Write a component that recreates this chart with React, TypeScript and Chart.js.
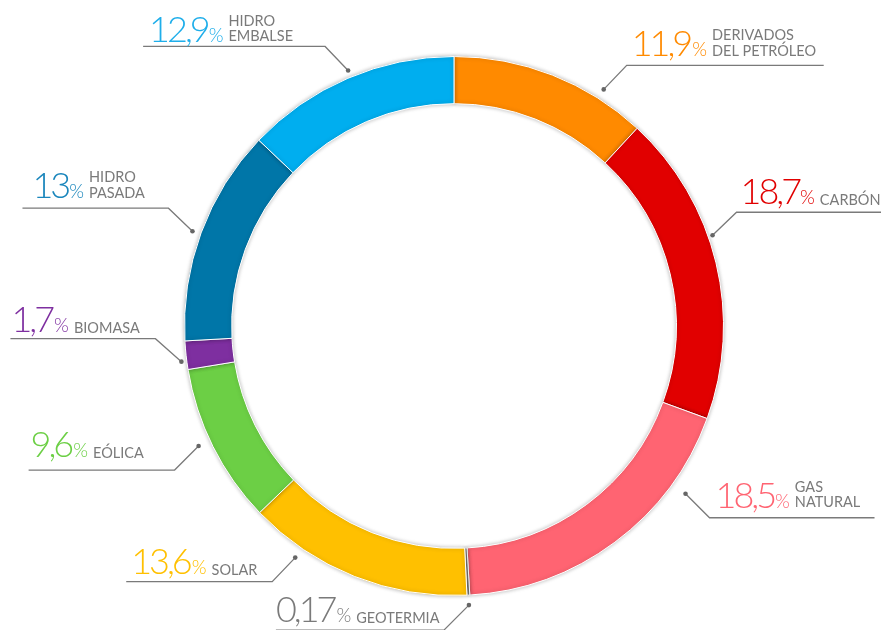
import React, { useEffect, useRef } from "react";
import { Chart, registerables } from "chart.js";

Chart.register(...registerables);

// ---- data ----
const categories = [
  "DERIVADOS\nDEL PETRÓLEO",
  "CARBÓN",
  "GAS\nNATURAL",
  "GEOTERMIA",
  "SOLAR",
  "EÓLICA",
  "BIOMASA",
  "HIDRO\nPASADA",
  "HIDRO\nEMBALSE",
];
const shares = [11.9, 18.7, 18.5, 0.17, 13.6, 9.6, 1.7, 13, 12.9];
const valueLabels = ["11,9", "18,7", "18,5", "0,17", "13,6", "9,6", "1,7", "13", "12,9"];

// ---- styles ----
const sliceColors = [
  "#FF8A00",
  "#E10000",
  "#FF6472",
  "#7F7F7F",
  "#FFC000",
  "#6CCF45",
  "#7E2FA0",
  "#0076A8",
  "#00AEEF",
];
const textColors = [
  "#FF8A00",
  "#E10000",
  "#FF6472",
  "#7A7A7A",
  "#FFC000",
  "#6CCF45",
  "#7E2FA0",
  "#1A86BC",
  "#1FAEEA",
];

// label layout: position within arc (frac), radial offset of dot, elbow offset, line length, text offset, baseline gap, % gap
const labelLayout = [
  { frac: 0.755, dr: 10.5, ex: 23, ey: -24, len: 197, tdx: 5, gap: 9, pg: 2 },
  { frac: 0.414, dr: 4.5, ex: 24, ey: -23, len: 150, tdx: 4, gap: 8, pg: 1 },
  { frac: 0.238, dr: 16.4, ex: 24, ey: 24, len: 165, tdx: 6, gap: 10, pg: 1 },
  { frac: 0.5, dr: 10, ex: -25, ey: 25, len: 168, tdx: 0, gap: 8, pg: 2 },
  { frac: 0.76, dr: 11.3, ex: -23, ey: 24, len: 146, tdx: 5, gap: 8, pg: 2 },
  { frac: 0.54, dr: 12.7, ex: -24, ey: 24, len: 146, tdx: 2, gap: 13, pg: 2 },
  { frac: 0.3, dr: 5.4, ex: -26, ey: -23, len: 145, tdx: 1, gap: 7, pg: 2 },
  { frac: 0.494, dr: 8.7, ex: -24, ey: -23, len: 146, tdx: 10, gap: 10, pg: 1 },
  { frac: 0.515, dr: 7.1, ex: -23, ey: -24, len: 182, tdx: 6, gap: 4.5, pg: 1 },
];

const NUM_FONT = "300 36px Lato, 'Open Sans', sans-serif";
const PCT_FONT = "300 19px Lato, 'Open Sans', sans-serif";
const NAME_FONT = "400 14.5px Lato, 'Open Sans', sans-serif";
const LINE_COLOR = "#7a7a7a";
const NAME_COLOR = "#7a7a7a";

const shadowPlugin = {
  id: "ringShadow",
  beforeDatasetsDraw(chart: any) {
    const ctx = chart.ctx;
    ctx.save();
    ctx.shadowColor = "rgba(0,0,0,0.28)";
    ctx.shadowBlur = 4;
    ctx.shadowOffsetX = 0;
    ctx.shadowOffsetY = 0;
  },
  afterDatasetsDraw(chart: any) {
    chart.ctx.restore();
  },
};

const calloutPlugin = {
  id: "callouts",
  afterDraw(chart: any) {
    const ctx = chart.ctx;
    const meta = chart.getDatasetMeta(0);
    meta.data.forEach((arc: any, i: number) => {
      const L = labelLayout[i];
      const { x, y, startAngle, endAngle, outerRadius } = arc.getProps(
        ["x", "y", "startAngle", "endAngle", "outerRadius"],
        true
      );
      const a = startAngle + (endAngle - startAngle) * L.frac;
      const r = outerRadius + L.dr;
      const dx = x + Math.cos(a) * r;
      const dy = y + Math.sin(a) * r;
      const elx = dx + L.ex;
      const ely = dy + L.ey;
      const right = L.ex > 0;
      const lineLeft = right ? elx : elx - L.len;
      const lineRight = right ? elx + L.len : elx;

      ctx.save();
      // leader
      ctx.strokeStyle = LINE_COLOR;
      ctx.lineWidth = 1.3;
      ctx.beginPath();
      ctx.moveTo(dx, dy);
      ctx.lineTo(elx, ely);
      ctx.lineTo(right ? lineRight : lineLeft, ely);
      ctx.stroke();
      ctx.fillStyle = "#666";
      ctx.beginPath();
      ctx.arc(dx, dy, 2.3, 0, Math.PI * 2);
      ctx.fill();

      // text
      const base = ely - L.gap;
      let tx = lineLeft + L.tdx;
      ctx.textBaseline = "alphabetic";
      ctx.textAlign = "left";
      ctx.fillStyle = textColors[i];
      ctx.font = NUM_FONT;
      (ctx as any).letterSpacing = "-3px";
      ctx.fillText(valueLabels[i], tx, base);
      tx += ctx.measureText(valueLabels[i]).width + L.pg;
      (ctx as any).letterSpacing = "0px";
      ctx.font = PCT_FONT;
      ctx.fillText("%", tx, base);
      tx += ctx.measureText("%").width + 5;
      ctx.font = NAME_FONT;
      ctx.fillStyle = NAME_COLOR;
      const lines = categories[i].split("\n");
      if (lines.length === 2) {
        ctx.fillText(lines[0], tx, base - 16);
        ctx.fillText(lines[1], tx, base - 0.5);
      } else {
        ctx.fillText(lines[0], tx, base + 1);
      }
      ctx.restore();
    });
  },
};

export default function App() {
  const ref = useRef<HTMLCanvasElement | null>(null);
  useEffect(() => {
    document.body.style.margin = "0";
    if (!ref.current) return;
    const chart = new Chart(ref.current, {
      type: "doughnut",
      data: {
        labels: categories.map((c) => c.replace("\n", " ")),
        datasets: [
          {
            data: shares,
            backgroundColor: sliceColors,
            borderColor: "#ffffff",
            borderWidth: 1,
            hoverOffset: 0,
          },
        ],
      },
      options: {
        responsive: false,
        animation: false,
        cutout: "82.5%",
        layout: { padding: { left: 184, right: 157, top: 56, bottom: 34 } },
        plugins: {
          legend: { display: false },
          tooltip: { enabled: false },
        },
      },
      plugins: [shadowPlugin, calloutPlugin],
    });
    return () => chart.destroy();
  }, []);
  return (
    <div style={{ width: 881, height: 630, position: "relative" }}>
      <canvas ref={ref} width={881} height={630} style={{ width: 881, height: 630 }} />
    </div>
  );
}
